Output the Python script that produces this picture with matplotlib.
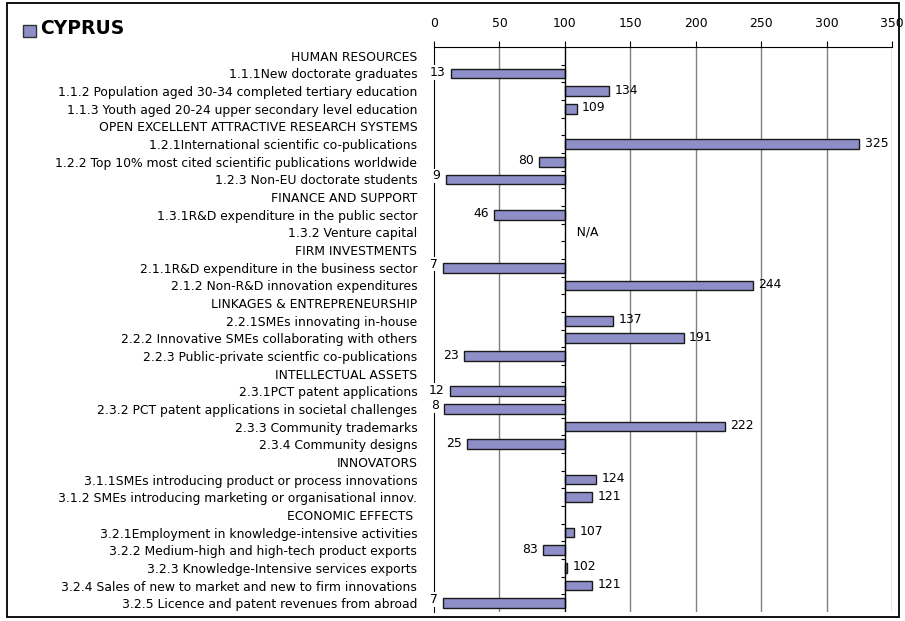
import matplotlib.pyplot as plt
from matplotlib.patches import Rectangle
import numpy as np

plt.rcParams['font.family'] = ['DejaVu Sans']

# rows of the chart, headers have value None
labels = [
    "HUMAN RESOURCES",
    "1.1.1New doctorate graduates",
    "1.1.2 Population aged 30-34 completed tertiary education",
    "1.1.3 Youth aged 20-24 upper secondary level education",
    "OPEN EXCELLENT ATTRACTIVE RESEARCH SYSTEMS",
    "1.2.1International scientific co-publications",
    "1.2.2 Top 10% most cited scientific publications worldwide",
    "1.2.3 Non-EU doctorate students",
    "FINANCE AND SUPPORT",
    "1.3.1R&D expenditure in the public sector",
    "1.3.2 Venture capital",
    "FIRM INVESTMENTS",
    "2.1.1R&D expenditure in the business sector",
    "2.1.2 Non-R&D innovation expenditures",
    "LINKAGES & ENTREPRENEURSHIP",
    "2.2.1SMEs innovating in-house",
    "2.2.2 Innovative SMEs collaborating with others",
    "2.2.3 Public-private scientfic co-publications",
    "INTELLECTUAL ASSETS",
    "2.3.1PCT patent applications",
    "2.3.2 PCT patent applications in societal challenges",
    "2.3.3 Community trademarks",
    "2.3.4 Community designs",
    "INNOVATORS",
    "3.1.1SMEs introducing product or process innovations",
    "3.1.2 SMEs introducing marketing or organisational innov.",
    "ECONOMIC EFFECTS ",
    "3.2.1Employment in knowledge-intensive activities",
    "3.2.2 Medium-high and high-tech product exports",
    "3.2.3 Knowledge-Intensive services exports",
    "3.2.4 Sales of new to market and new to firm innovations",
    "3.2.5 Licence and patent revenues from abroad",
]
values = [None, 13, 134, 109, None, 325, 80, 9, None, 46, "N/A", None,
          7, 244, None, 137, 191, 23, None, 12, 8, 222, 25, None, 124, 121,
          None, 107, 83, 102, 121, 7]
base = 100
xticks = [0, 50, 100, 150, 200, 250, 300, 350]
country = "CYPRUS"
bar_color = "#8e8ec8"
fs = 8.9

fig = plt.figure(figsize=(9.05, 6.21), dpi=100)
ax = fig.add_axes([434 / 905, 1 - 612 / 621, 458 / 905, 565 / 621])

n = len(labels)
ypos = np.arange(n)
for y, v in zip(ypos, values):
    if v is None:
        continue
    if v == "N/A":
        ax.text(base, y, "   N/A", ha="left", va="center", fontsize=fs)
        continue
    ax.barh(y, v - base, left=base, height=0.55, color=bar_color,
            edgecolor="#1a1a1a", linewidth=1.0, zorder=3)
    if v >= base:
        ax.text(v + 4, y - 0.05, str(v), ha="left", va="center", fontsize=fs, zorder=4)
    else:
        ax.text(v - 4, y - 0.2 if v < 10 else y - 0.05, str(v), ha="right", va="center",
                fontsize=fs, zorder=4,
                bbox=dict(facecolor="white", edgecolor="none", pad=0.5))

ax.set_xlim(0, 350)
ax.set_ylim(n - 0.5, -0.5)
ax.set_xticks(xticks)
ax.xaxis.tick_top()
ax.tick_params(axis="x", direction="out", length=4, pad=8, labelsize=fs, color="black")
ax.set_yticks(ypos)
ax.set_yticklabels(labels, fontsize=fs)
ax.tick_params(axis="y", length=0, pad=12)

for xv in xticks:
    if xv not in (0, base):
        ax.axvline(xv, color="#808080", linewidth=1.0, zorder=1)
ax.axvline(base, color="black", linewidth=1.0, zorder=4)
bounds = np.arange(n + 1) - 0.5
ax.hlines(bounds, base - 3, base, color="black", linewidth=0.8, zorder=4)

for s in ("right", "bottom"):
    ax.spines[s].set_visible(False)
ax.spines["left"].set_color("black")
ax.spines["top"].set_color("black")

# legend marker and country name
fig.patches.append(Rectangle((23 / 905, 1 - 37 / 621), 13 / 905, 12 / 621,
                             transform=fig.transFigure, facecolor=bar_color,
                             edgecolor="#333333", linewidth=1.0))
fig.text(40 / 905, 1 - 29 / 621, country, fontsize=13.5, fontweight="bold",
         ha="left", va="center")

# outer frame
fig.patches.append(Rectangle((7 / 905, 4 / 621), 892 / 905, 614 / 621,
                             transform=fig.transFigure, fill=False,
                             edgecolor="black", linewidth=1.3))

fig.savefig("out.png", dpi=100)
